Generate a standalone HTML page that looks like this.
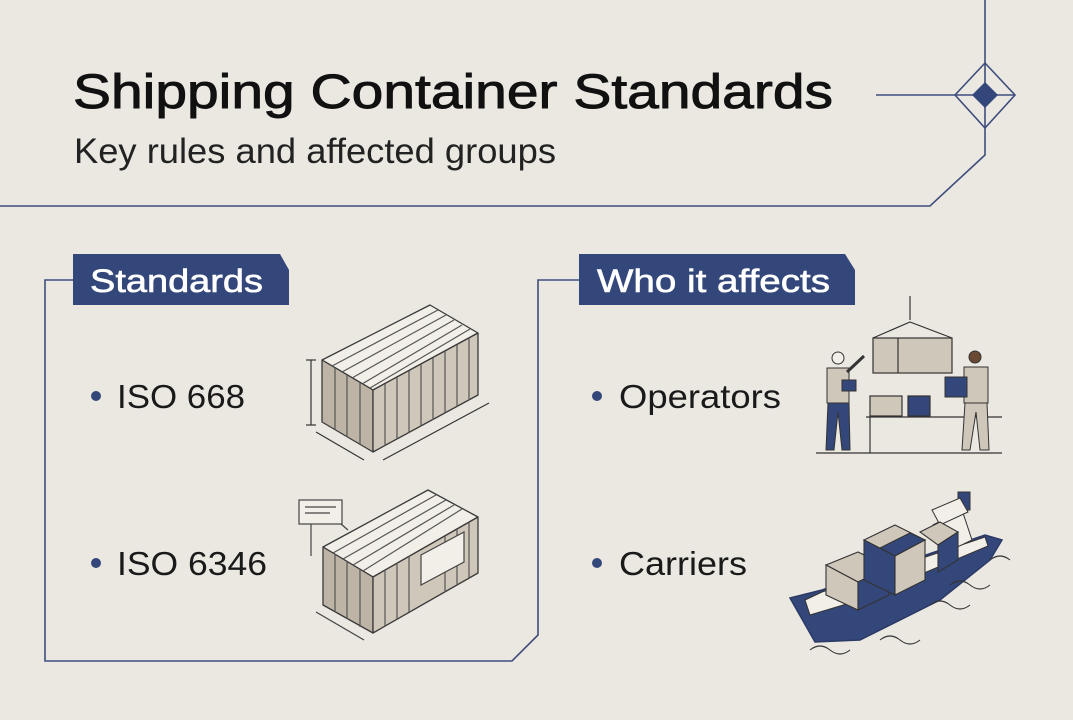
<!DOCTYPE html>
<html><head><meta charset="utf-8"><style>
html,body{margin:0;padding:0;background:#ebe8e2;}
svg{display:block;}
text{font-family:"Liberation Sans",sans-serif;}
</style></head><body>
<svg width="1073" height="720" viewBox="0 0 1073 720" xmlns="http://www.w3.org/2000/svg">
<rect width="1073" height="720" fill="#ebe8e2"/>
<g fill="none" stroke="#3e4d7c" stroke-width="1.6">
<polyline points="0,206 930,206 985,155 985,0"/>
<line x1="876" y1="95" x2="1015" y2="95"/>
<polygon points="985,63 1015,95 985,128 955,95"/>
</g>
<polygon points="985,82 998,95 985,108 972,95" fill="#34477a"/>
<text x="73" y="108" font-size="48" fill="#111" stroke="#111" stroke-width="0.9" textLength="760" lengthAdjust="spacingAndGlyphs">Shipping Container Standards</text>
<text x="74" y="163" font-size="35" fill="#222" textLength="482" lengthAdjust="spacingAndGlyphs">Key rules and affected groups</text>

<g fill="none" stroke="#3e4d7c" stroke-width="1.6">
<polyline points="73,280 45,280 45,661 512,661 538,635 538,280 579,280"/>
</g>
<polygon points="73,254 280,254 289,270 289,305 73,305" fill="#34477a"/>
<text x="90" y="292" font-size="32" fill="#fff" stroke="#fff" stroke-width="0.6" textLength="173" lengthAdjust="spacingAndGlyphs">Standards</text>
<polygon points="579,254 845,254 855,270 855,305 579,305" fill="#34477a"/>
<text x="597" y="292" font-size="32" fill="#fff" stroke="#fff" stroke-width="0.6" textLength="233" lengthAdjust="spacingAndGlyphs">Who it affects</text>

<g fill="#34477a"><circle cx="96" cy="396" r="5"/><circle cx="96" cy="563" r="5"/><circle cx="597" cy="396" r="5"/><circle cx="597" cy="563" r="5"/></g>
<g font-size="33" fill="#1a1a1a">
<text x="117" y="408" textLength="128" lengthAdjust="spacingAndGlyphs">ISO 668</text>
<text x="117" y="575" textLength="150" lengthAdjust="spacingAndGlyphs">ISO 6346</text>
<text x="619" y="408" textLength="162" lengthAdjust="spacingAndGlyphs">Operators</text>
<text x="619" y="575" textLength="128" lengthAdjust="spacingAndGlyphs">Carriers</text>
</g>

<g stroke="#3a3a3a" stroke-width="1.3" stroke-linejoin="round">
<polygon points="322,360 430,305 478,333 373,390" fill="#f2efe8"/>
<polygon points="322,360 373,390 373,452 322,422" fill="#bdb4a6"/>
<polygon points="373,390 478,333 478,395 373,452" fill="#cfc7b9"/>
</g>
<g stroke="#555" stroke-width="1.2">
<line x1="332" y1="366" x2="438" y2="310"/><line x1="342" y1="372" x2="446" y2="315"/><line x1="352" y1="378" x2="454" y2="320"/><line x1="362" y1="384" x2="462" y2="325"/><line x1="370" y1="388" x2="470" y2="329"/>
<line x1="385" y1="384" x2="385" y2="446"/><line x1="397" y1="377" x2="397" y2="439"/><line x1="409" y1="371" x2="409" y2="433"/><line x1="421" y1="364" x2="421" y2="426"/><line x1="433" y1="358" x2="433" y2="420"/><line x1="445" y1="351" x2="445" y2="413"/><line x1="457" y1="345" x2="457" y2="407"/><line x1="469" y1="338" x2="469" y2="400"/>
<line x1="335" y1="368" x2="335" y2="430"/><line x1="347" y1="375" x2="347" y2="437"/><line x1="360" y1="383" x2="360" y2="445"/>
</g>
<g stroke="#333" stroke-width="1.2" fill="none">
<line x1="311" y1="360" x2="311" y2="425"/><line x1="306" y1="360" x2="316" y2="360"/><line x1="306" y1="425" x2="316" y2="425"/>
<line x1="316" y1="432" x2="364" y2="460"/><line x1="383" y1="460" x2="489" y2="403"/>
</g>
<g stroke="#3a3a3a" stroke-width="1.3" stroke-linejoin="round">
<polygon points="323,547 428,490 478,517 373,577" fill="#f2efe8"/>
<polygon points="323,547 373,577 373,633 323,605" fill="#bdb4a6"/>
<polygon points="373,577 478,517 478,573 373,633" fill="#cfc7b9"/>
</g>
<g stroke="#555" stroke-width="1.2">
<line x1="333" y1="553" x2="436" y2="495"/><line x1="343" y1="559" x2="446" y2="500"/><line x1="353" y1="565" x2="454" y2="505"/><line x1="363" y1="571" x2="462" y2="509"/>
<line x1="385" y1="570" x2="385" y2="626"/><line x1="397" y1="563" x2="397" y2="619"/><line x1="409" y1="556" x2="409" y2="612"/><line x1="445" y1="536" x2="445" y2="592"/><line x1="457" y1="529" x2="457" y2="585"/><line x1="469" y1="522" x2="469" y2="578"/>
<line x1="335" y1="554" x2="335" y2="612"/><line x1="347" y1="561" x2="347" y2="619"/><line x1="360" y1="569" x2="360" y2="627"/>
</g>
<polygon points="421,555 464,532 464,562 421,585" fill="#f2efe8" stroke="#444" stroke-width="1.2"/>
<rect x="299" y="500" width="43" height="24" fill="#f2efe8" stroke="#444" stroke-width="1.2"/>
<g stroke="#444" stroke-width="1.2"><line x1="305" y1="507" x2="336" y2="507"/><line x1="305" y1="513" x2="330" y2="513"/><line x1="311" y1="524" x2="311" y2="556"/><line x1="341" y1="524" x2="348" y2="530"/><line x1="316" y1="612" x2="364" y2="640"/></g>

<g stroke="#333" stroke-width="1.2">
<line x1="910" y1="296" x2="910" y2="320"/>
<polyline points="873,338 910,322 952,338" fill="none"/>
<rect x="873" y="338" width="79" height="35" fill="#cfc7b9"/>
<line x1="898" y1="338" x2="898" y2="373"/>
<rect x="870" y="396" width="32" height="20" fill="#cfc7b9"/>
<rect x="908" y="396" width="22" height="20" fill="#34477a"/>
<line x1="866" y1="417" x2="1002" y2="417"/><line x1="870" y1="417" x2="870" y2="453"/>
<line x1="816" y1="453" x2="1002" y2="453"/>
</g>
<circle cx="838" cy="358" r="6" fill="#f2efe8" stroke="#333"/>
<rect x="827" y="368" width="22" height="35" fill="#cfc7b9" stroke="#333"/>
<path d="M828 403 L826 450 L834 450 L838 412 L842 450 L850 450 L849 403 Z" fill="#34477a" stroke="#333"/>
<line x1="847" y1="372" x2="864" y2="356" stroke="#333" stroke-width="3"/>
<rect x="842" y="380" width="14" height="11" fill="#34477a" stroke="#333"/>
<circle cx="975" cy="357" r="6" fill="#6b4a34" stroke="#333"/>
<rect x="964" y="367" width="24" height="36" fill="#cfc7b9" stroke="#333"/>
<path d="M965 403 L962 450 L970 450 L976 412 L980 450 L989 450 L987 403 Z" fill="#cfc7b9" stroke="#333"/>
<rect x="945" y="377" width="22" height="20" fill="#34477a" stroke="#333"/>

<path d="M790 598 L822 590 L985 535 L1002 540 L990 560 L940 600 L860 640 L815 642 Z" fill="#34477a" stroke="#2b3a66" stroke-width="1.5"/>
<path d="M805 600 L822 592 L985 537 L988 546 L860 600 L810 615 Z" fill="#f2efe8" stroke="#333"/>
<polygon points="933,525 962,510 972,540 945,553" fill="#f2efe8" stroke="#333"/>
<rect x="958" y="492" width="12" height="18" fill="#34477a" stroke="#333"/>
<polygon points="932,510 960,498 968,512 940,525" fill="#f2efe8" stroke="#333"/>
<g stroke="#333" stroke-width="1.1">
<polygon points="826,565 858,552 889,567 858,582" fill="#cfc7b9"/>
<polygon points="826,565 858,582 858,610 826,595" fill="#cfc7b9"/>
<polygon points="858,582 889,567 889,595 858,610" fill="#34477a"/>
<polygon points="864,540 895,525 925,540 895,556" fill="#cfc7b9"/>
<polygon points="880,548 910,533 925,540 895,556" fill="#34477a"/>
<polygon points="864,540 895,556 895,595 864,580" fill="#34477a"/>
<polygon points="895,556 925,540 925,580 895,595" fill="#cfc7b9"/>
<polygon points="920,532 940,522 958,532 938,545" fill="#cfc7b9"/>
<polygon points="938,545 958,532 958,560 938,572" fill="#34477a"/>
</g>
<g fill="none" stroke="#333" stroke-width="1.1">
<path d="M930 605 q10 -8 20 0 q10 8 20 0"/><path d="M950 585 q10 -8 20 0 q10 8 20 0"/><path d="M880 640 q10 -8 20 0 q10 8 20 0"/><path d="M810 650 q10 -8 20 0 q10 8 20 0"/><path d="M990 560 q10 -8 20 0"/>
</g>
</svg>
</body></html>
